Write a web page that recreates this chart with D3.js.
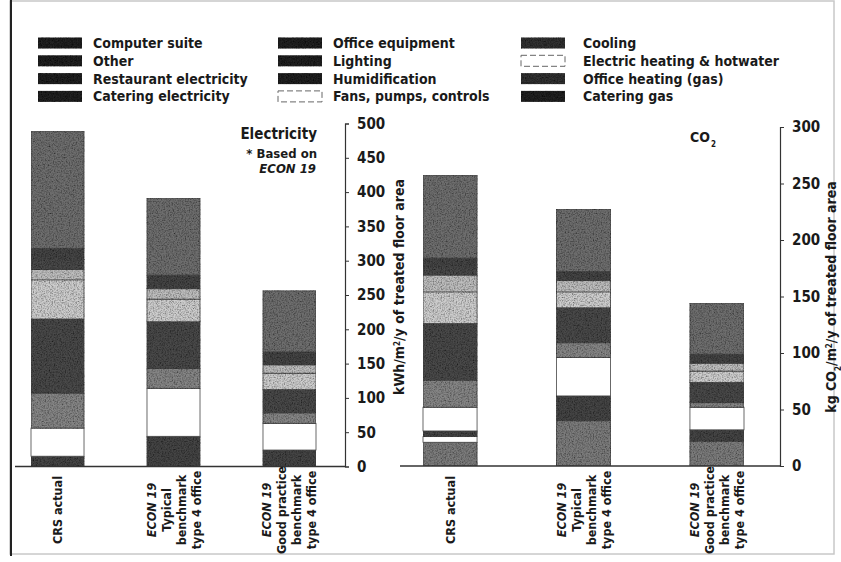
<!DOCTYPE html>
<html>
<head>
<meta charset="utf-8">
<script src="https://cdn.jsdelivr.net/npm/d3@7"></script>
<style>
  html, body { margin: 0; padding: 0; background: #fff; }
  svg text { font-family: "DejaVu Sans Condensed", "Liberation Sans Narrow", sans-serif; font-weight: bold; fill: #1a1a1a; }
</style>
</head>
<body>
<svg id="chart"></svg>
<script>
// bars
const bars = ["CRS actual", "ECON 19 typical", "ECON 19 good practice"];
const barLabels = [
    [{ t: "CRS actual" }],
    [{ t: "ECON 19", i: true }, { t: "Typical" }, { t: "benchmark" }, { t: "type 4 office" }],
    [{ t: "ECON 19", i: true }, { t: "Good practice" }, { t: "benchmark" }, { t: "type 4 office" }]
];

// legend order (as printed, column by column)
const legendItems = [
    "Computer suite", "Other", "Restaurant electricity", "Catering electricity",
    "Office equipment", "Lighting", "Humidification", "Fans, pumps, controls",
    "Cooling", "Electric heating & hotwater", "Office heating (gas)", "Catering gas"
];

// stacking order, bottom to top
const elecKeys = ["Cooling", "Fans, pumps, controls", "Humidification", "Lighting", "Office equipment",
    "Catering electricity", "Restaurant electricity", "Other", "Computer suite"];
const co2Keys = ["Office heating (gas)", "Catering gas", "Electric heating & hotwater"].concat(elecKeys);

// kWh/m2/y, one value per bar
const elecCooling      = [15, 44, 24];
const elecFans         = [41, 70, 39];
const elecHumid        = [51, 29, 15];
const elecLighting     = [108, 68, 34];
const elecOfficeEq     = [57, 33, 24];
const elecCatering     = [15, 15, 12];
const elecRestaurant   = [15, 0, 0];
const elecOther        = [16, 20, 19];
const elecComputer     = [171, 112, 89];

// kg CO2/m2/y
const co2OfficeGas     = [21, 40, 22];
const co2CateringGas   = [0, 0, 0];
const co2ElecHeating   = [5, 0, 0];
const co2Cooling       = [5, 22, 10];
const co2Fans          = [21, 34, 20];
const co2Humid         = [24, 13, 4];
const co2Lighting      = [50, 31, 18];
const co2OfficeEq      = [28, 14, 10];
const co2Catering      = [15, 10, 7];
const co2Restaurant    = [7, 0, 0];
const co2Other         = [8, 8, 8];
const co2Computer      = [73, 55, 45];

const elecTicks = d3.range(0, 501, 50);
const co2Ticks = d3.range(0, 301, 50);

const elecSeries = {
    "Cooling": elecCooling, "Fans, pumps, controls": elecFans, "Humidification": elecHumid,
    "Lighting": elecLighting, "Office equipment": elecOfficeEq, "Catering electricity": elecCatering,
    "Restaurant electricity": elecRestaurant, "Other": elecOther, "Computer suite": elecComputer
};
const co2Series = {
    "Office heating (gas)": co2OfficeGas, "Catering gas": co2CateringGas, "Electric heating & hotwater": co2ElecHeating,
    "Cooling": co2Cooling, "Fans, pumps, controls": co2Fans, "Humidification": co2Humid,
    "Lighting": co2Lighting, "Office equipment": co2OfficeEq, "Catering electricity": co2Catering,
    "Restaurant electricity": co2Restaurant, "Other": co2Other, "Computer suite": co2Computer
};

const fill = d3.scaleOrdinal()
    .domain(legendItems)
    .range(["#6e6e6e", "#444", "#4a4a4a", "#bdbdbd", "#cdcdcd", "#4a4a4a", "#858585", "#fff",
            "#454545", "#fff", "#7c7c7c", "#666"]);

const width = 841, height = 562;
const svg = d3.select("#chart").attr("width", width).attr("height", height);

// speckle like the printed screen
const defs = svg.append("defs");
const grain = defs.append("filter").attr("id", "grain")
    .attr("x", 0).attr("y", 0).attr("width", 1).attr("height", 1);
grain.append("feTurbulence").attr("type", "fractalNoise").attr("baseFrequency", 0.75)
    .attr("numOctaves", 2).attr("seed", 4).attr("result", "noise");
grain.append("feColorMatrix").attr("in", "noise").attr("type", "matrix")
    .attr("values", "0 0 0 0 0  0 0 0 0 0  0 0 0 0 0  1.6 0 0 0 -0.62").attr("result", "spots");
grain.append("feComposite").attr("in", "spots").attr("in2", "SourceGraphic").attr("operator", "in").attr("result", "spotsIn");
const merge = grain.append("feMerge");
merge.append("feMergeNode").attr("in", "SourceGraphic");
merge.append("feMergeNode").attr("in", "spotsIn");

// frame of the scanned page
svg.append("rect").attr("x", 10).attr("y", 1).attr("width", 824).attr("height", 553)
    .attr("fill", "none").attr("stroke", "#c8c8c8").attr("stroke-width", 1.5);
svg.append("line").attr("x1", 11).attr("x2", 11).attr("y1", 0).attr("y2", 556)
    .attr("stroke", "#222").attr("stroke-width", 2);

// legend
const legend = svg.append("g");
legendItems.forEach((name, i) => {
    const col = Math.floor(i / 4), row = i % 4;
    const sx = [38, 278, 521][col], tx = [93, 333, 583][col];
    const cy = 43 + row * 17.8;
    const white = fill(name) === "#fff";
    legend.append("rect")
        .attr("x", sx).attr("y", cy - 5.5).attr("width", 44).attr("height", 11)
        .attr("fill", white ? "#fff" : (name === "Cooling" || name === "Office heating (gas)" ? "#333" : "#222"))
        .attr("stroke", white ? "#666" : "none")
        .attr("stroke-dasharray", white ? "6,3" : null)
        .attr("filter", white ? null : "url(#grain)");
    legend.append("text")
        .attr("x", tx).attr("y", cy + 5)
        .style("font-size", "14px")
        .text(name);
});

function drawChart(keys, series, x0, x1, pad, y, ticks, axisX, baseX0) {
    const rows = bars.map((b, i) => {
        const r = { bar: b };
        keys.forEach(k => r[k] = series[k][i]);
        return r;
    });
    const stack = d3.stack().keys(keys)(rows);
    const x = d3.scaleBand().domain(bars).range([x0, x1]).paddingInner(pad).paddingOuter(0);

    const g = svg.append("g");
    g.selectAll("g.layer")
        .data(stack)
        .enter()
        .append("g")
        .attr("class", "layer")
        .selectAll("rect")
        .data(d => d.map(v => ({ key: d.key, v })))
        .enter()
        .filter(d => d.v[1] > d.v[0])
        .append("rect")
        .attr("x", d => x(d.v.data.bar))
        .attr("width", x.bandwidth())
        .attr("y", d => y(d.v[1]))
        .attr("height", d => y(d.v[0]) - y(d.v[1]))
        .attr("fill", d => fill(d.key))
        .attr("stroke", "#444")
        .attr("stroke-width", 0.8)
        .attr("filter", d => fill(d.key) === "#fff" ? null : "url(#grain)");

    // baseline
    g.append("line")
        .attr("x1", baseX0).attr("x2", axisX)
        .attr("y1", y(0)).attr("y2", y(0))
        .attr("stroke", "#333").attr("stroke-width", 1.5);

    const axis = g.append("g")
        .attr("transform", `translate(${axisX},0)`)
        .call(d3.axisRight(y).tickValues(ticks).tickSize(4).tickSizeOuter(4).tickPadding(8));
    axis.select(".domain").attr("stroke", "#333").attr("stroke-width", 1.2);
    axis.selectAll(".tick line").attr("stroke", "#333");
    axis.selectAll(".tick text")
        .style("font-family", "'DejaVu Sans Condensed', sans-serif")
        .style("font-size", "15px").attr("fill", "#1a1a1a");

    // rotated category labels
    bars.forEach((b, i) => {
        const lines = barLabels[i];
        const cx = x(b) + x.bandwidth() / 2;
        lines.forEach((ln, j) => {
            const lx = cx + (j - (lines.length - 1) / 2) * 15 + 4.5;
            g.append("text")
                .attr("transform", `translate(${lx},510) rotate(-90)`)
                .attr("text-anchor", "middle")
                .style("font-size", "12.5px")
                .style("font-style", ln.i ? "italic" : null)
                .text(ln.t);
        });
    });
}

const yElec = d3.scaleLinear().domain([0, 500]).range([466.5, 123.5]);
const yCo2 = d3.scaleLinear().domain([0, 300]).range([466, 127]);

drawChart(elecKeys, elecSeries, 31, 316, 0.543, yElec, elecTicks, 345, 15);
drawChart(co2Keys, co2Series, 423, 744, 0.595, yCo2, co2Ticks, 780, 400);

// axis titles
const t1 = svg.append("text")
    .attr("transform", "translate(404,287) rotate(-90)")
    .attr("text-anchor", "middle")
    .style("font-size", "14px");
t1.append("tspan").text("kWh/m");
t1.append("tspan").attr("baseline-shift", "super").style("font-size", "8px").text("2");
t1.append("tspan").text("/y of treated floor area");

const t2 = svg.append("text")
    .attr("transform", "translate(836,297) rotate(-90)")
    .attr("text-anchor", "middle")
    .style("font-size", "14px");
t2.append("tspan").text("kg CO");
t2.append("tspan").attr("baseline-shift", "sub").style("font-size", "8px").text("2");
t2.append("tspan").text("/m");
t2.append("tspan").attr("baseline-shift", "super").style("font-size", "8px").text("2");
t2.append("tspan").text("/y of treated floor area");

// panel notes
svg.append("text").attr("x", 317).attr("y", 139).attr("text-anchor", "end")
    .style("font-size", "15px").text("Electricity");
svg.append("text").attr("x", 317).attr("y", 158).attr("text-anchor", "end")
    .style("font-size", "13px").text("* Based on");
svg.append("text").attr("x", 316).attr("y", 173).attr("text-anchor", "end")
    .style("font-size", "13px").style("font-style", "italic").text("ECON 19");
const co2Note = svg.append("text").attr("x", 690).attr("y", 142).style("font-size", "14px");
co2Note.append("tspan").text("CO");
co2Note.append("tspan").attr("dx", 1).attr("baseline-shift", "sub").style("font-size", "8px").text("2");
</script>
</body>
</html>
